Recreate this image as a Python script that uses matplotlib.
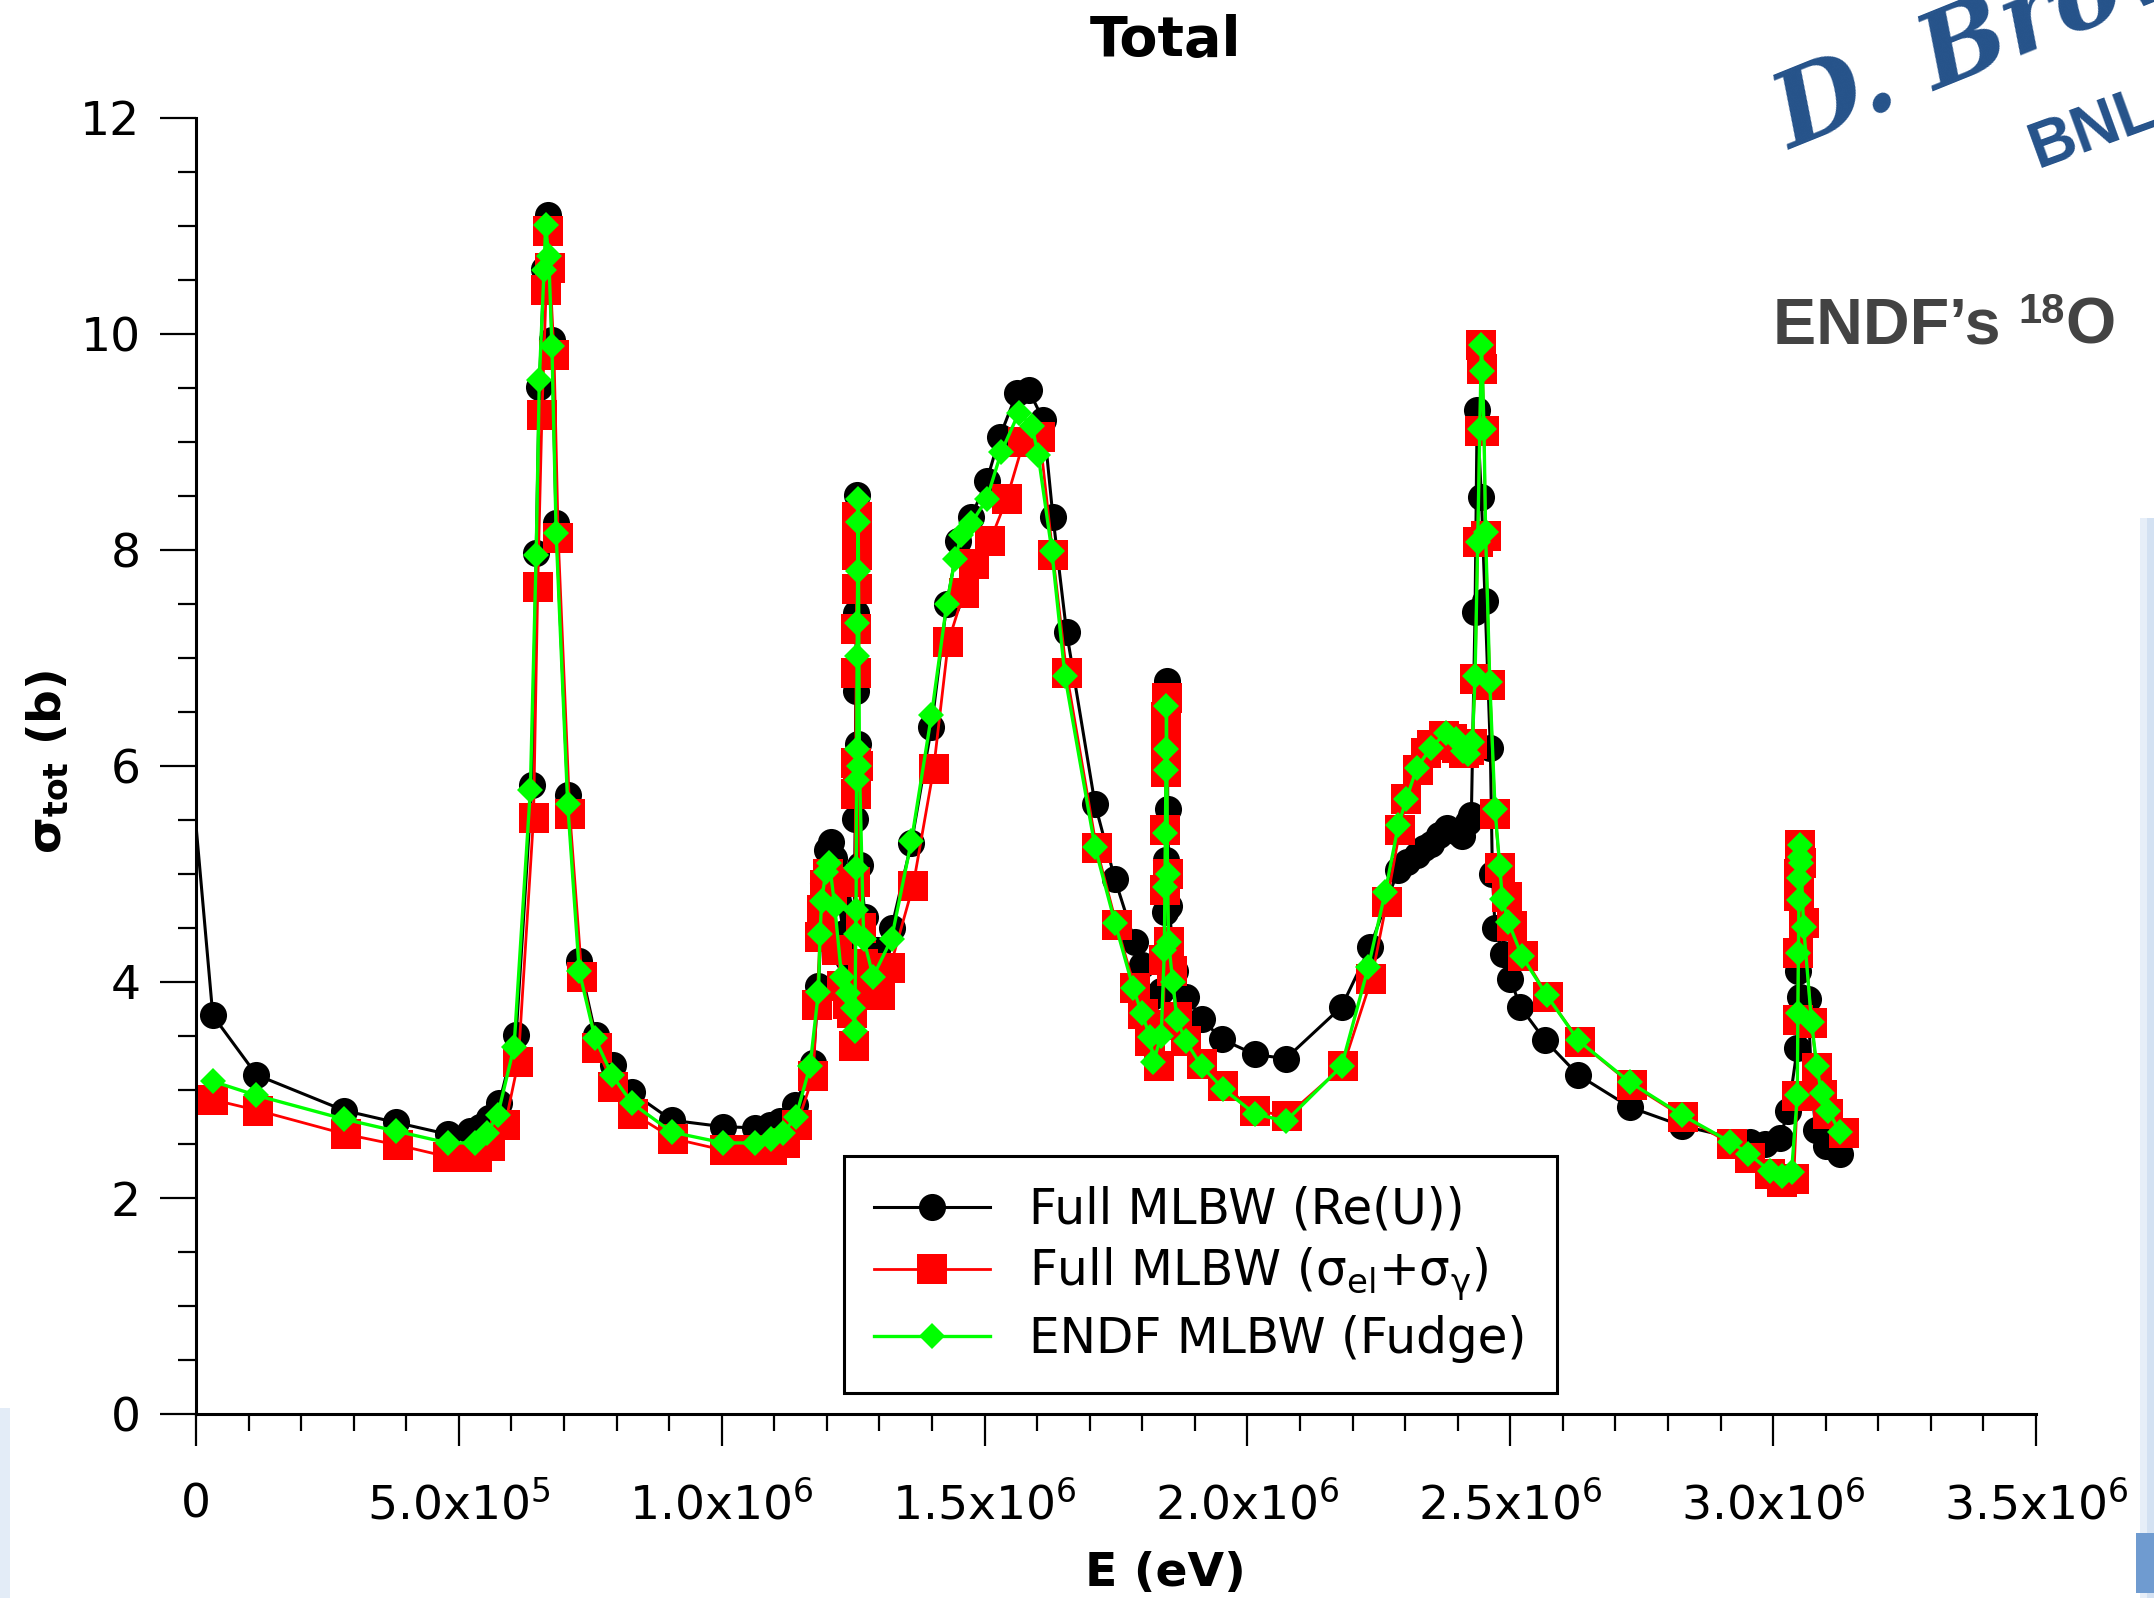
import matplotlib
matplotlib.use("Agg")
import matplotlib.pyplot as plt
from matplotlib.ticker import MultipleLocator, FixedLocator
from matplotlib.transforms import IdentityTransform
from matplotlib.patches import Rectangle

# ---------------- data (E in keV, sigma in barns) ----------------
E_reu = [0, 32, 115, 282, 380, 479, 522, 540, 558, 577, 609, 639, 647, 653, 662, 670, 677, 685, 707, 729,
         760, 793, 829, 905, 1003, 1063, 1091, 1111, 1139, 1174, 1184, 1193, 1201, 1207, 1213, 1222, 1232,
         1241, 1248, 1252, 1254, 1255, 1256, 1257, 1259, 1263, 1273, 1295, 1323, 1361, 1399, 1428, 1450,
         1475, 1504, 1529, 1561, 1584, 1612, 1630, 1656, 1710, 1748, 1786, 1799, 1818, 1836, 1843, 1844.5,
         1846, 1847, 1848.5, 1851, 1862, 1884, 1913, 1951, 2014, 2073, 2179, 2233, 2287, 2303, 2322, 2336,
         2350, 2365, 2379, 2394, 2408, 2420, 2426, 2433, 2437, 2445, 2452, 2462, 2466, 2471, 2487, 2500,
         2519, 2566, 2629, 2728, 2826, 2956, 2985, 3013, 3029, 3046, 3048, 3052, 3066, 3074, 3081, 3100, 3127]
S_reu = [5.45, 3.69, 3.14, 2.81, 2.70, 2.59, 2.62, 2.66, 2.74, 2.88, 3.51, 5.82, 7.97, 9.51, 10.6, 11.10, 9.94,
         8.25, 5.73, 4.19, 3.51, 3.23, 2.98, 2.72, 2.66, 2.65, 2.68, 2.71, 2.86, 3.25, 3.96, 4.92, 5.22, 5.30,
         5.15, 4.75, 4.45, 4.21, 4.05, 4.60, 5.51, 6.69, 7.42, 8.51, 6.20, 5.08, 4.60, 4.30, 4.50, 5.29, 6.36,
         7.50, 8.08, 8.31, 8.64, 9.05, 9.45, 9.48, 9.20, 8.31, 7.24, 5.65, 4.95, 4.37, 4.16, 3.86, 3.92, 4.65,
         5.13, 6.60, 6.79, 5.60, 4.70, 4.10, 3.86, 3.66, 3.47, 3.33, 3.29, 3.77, 4.32, 5.04, 5.11, 5.18, 5.24,
         5.28, 5.36, 5.43, 5.40, 5.35, 5.48, 5.55, 7.43, 9.30, 8.49, 7.53, 6.17, 5.00, 4.50, 4.26, 4.03, 3.77,
         3.46, 3.14, 2.84, 2.67, 2.52, 2.50, 2.56, 2.81, 3.39, 4.10, 3.86, 3.84, 3.00, 2.63, 2.48, 2.41]

E_sum = [32, 118, 285, 384, 480, 510, 534, 559, 588, 613, 642, 650, 658, 666, 670, 673, 681, 689, 711, 734,
         763, 794, 832, 908, 1006, 1060, 1095, 1120, 1143, 1174, 1181, 1187, 1190, 1196, 1203, 1210, 1220,
         1228, 1240, 1247, 1252, 1253.5, 1254.5, 1255, 1255.5, 1256, 1256.5, 1257, 1257.5, 1258, 1260, 1264,
         1269, 1285, 1301, 1320, 1364, 1403, 1431, 1460, 1479, 1510, 1542, 1574, 1605, 1630, 1656, 1713,
         1751, 1786, 1802, 1815, 1831, 1840, 1842, 1843, 1844, 1845, 1845.5, 1846, 1846.5, 1848, 1850, 1856,
         1866, 1884, 1913, 1954, 2014, 2075, 2182, 2236, 2265, 2290, 2302, 2325, 2340, 2351, 2373, 2390,
         2398, 2412, 2422, 2428, 2433, 2438, 2442, 2445, 2447, 2450, 2453, 2461, 2471, 2480, 2493, 2503,
         2525, 2572, 2633, 2731, 2829, 2921, 2956, 2994, 3016, 3039, 3046, 3047, 3048, 3049, 3050, 3050.5,
         3051, 3053, 3058, 3073, 3083, 3092, 3105, 3134]
S_sum = [2.91, 2.81, 2.59, 2.49, 2.38, 2.38, 2.38, 2.48, 2.68, 3.26, 5.52, 7.66, 9.25, 10.41, 10.95, 10.61,
         9.81, 8.11, 5.56, 4.05, 3.39, 3.03, 2.78, 2.55, 2.44, 2.44, 2.44, 2.51, 2.68, 3.13, 3.79, 4.42, 4.67,
         4.90, 5.00, 4.80, 4.30, 3.96, 3.80, 3.71, 3.41, 4.93, 5.74, 6.03, 6.86, 7.27, 7.64, 7.95, 8.12, 8.31,
         6.00, 4.50, 4.17, 3.93, 3.88, 4.13, 4.89, 5.97, 7.15, 7.60, 7.87, 8.08, 8.47, 9.00, 9.05, 7.95, 6.86,
         5.24, 4.53, 3.94, 3.70, 3.45, 3.22, 3.60, 4.20, 4.85, 5.41, 5.94, 6.21, 6.45, 6.63, 5.00, 4.37, 4.10,
         3.68, 3.45, 3.24, 3.04, 2.81, 2.76, 3.22, 4.03, 4.74, 5.41, 5.69, 5.96, 6.12, 6.19, 6.28, 6.25, 6.17,
         6.12, 6.15, 6.20, 6.81, 8.07, 9.10, 9.90, 9.68, 9.10, 8.13, 6.75, 5.56, 5.06, 4.79, 4.52, 4.24, 3.86,
         3.44, 3.05, 2.75, 2.50, 2.37, 2.22, 2.15, 2.18, 2.94, 3.65, 4.27, 4.80, 5.00, 5.20, 5.27, 5.10, 4.55,
         3.62, 3.20, 2.95, 2.78, 2.60]

E_fudge = [32, 115, 282, 380, 479, 531, 553, 574, 605, 636, 647, 653, 662, 665, 671, 677, 685, 707, 729, 759,
           791, 829, 905, 1003, 1063, 1094, 1116, 1141, 1168, 1184, 1187, 1190, 1198, 1205, 1215, 1228, 1240,
           1250, 1253, 1255, 1255.5, 1256, 1256.5, 1257, 1257.5, 1258, 1258.5, 1259, 1259.5, 1262, 1270, 1288,
           1323, 1361, 1399, 1428, 1444, 1456, 1475, 1504, 1532, 1565, 1590, 1602, 1628, 1653, 1710, 1748,
           1783, 1799, 1815, 1821, 1836, 1842, 1843, 1844, 1845, 1845.5, 1846, 1848, 1850, 1858, 1866, 1883,
           1913, 1954, 2014, 2073, 2179, 2230, 2262, 2287, 2302, 2322, 2349, 2378, 2397, 2410, 2420, 2428,
           2433, 2438, 2442, 2445, 2447, 2450, 2453, 2461, 2471, 2480, 2485, 2496, 2522, 2569, 2629, 2728,
           2826, 2918, 2953, 2994, 3016, 3035, 3046, 3047, 3048, 3049, 3050, 3050.5, 3051, 3053, 3058, 3073,
           3083, 3092, 3105, 3127]
S_fudge = [3.08, 2.95, 2.73, 2.62, 2.51, 2.51, 2.60, 2.77, 3.40, 5.78, 7.95, 9.57, 10.59, 11.01, 10.72, 9.89,
           8.16, 5.65, 4.10, 3.48, 3.14, 2.88, 2.61, 2.51, 2.51, 2.55, 2.60, 2.75, 3.22, 3.91, 4.44, 4.75, 5.02,
           5.10, 4.70, 4.05, 3.90, 3.76, 3.55, 4.44, 4.67, 5.06, 5.87, 6.16, 7.02, 7.32, 7.81, 8.26, 8.47, 6.00,
           4.40, 4.05, 4.40, 5.31, 6.47, 7.50, 7.92, 8.14, 8.25, 8.47, 8.91, 9.27, 9.15, 8.88, 7.99, 6.83, 5.25,
           4.55, 3.94, 3.71, 3.49, 3.26, 3.50, 4.30, 4.88, 5.38, 5.96, 6.16, 6.56, 5.00, 4.37, 4.00, 3.65, 3.45,
           3.22, 3.01, 2.78, 2.71, 3.22, 4.14, 4.83, 5.45, 5.69, 5.98, 6.17, 6.31, 6.25, 6.14, 6.11, 6.22, 6.83,
           8.07, 9.12, 9.90, 9.66, 9.12, 8.17, 6.78, 5.60, 5.07, 4.77, 4.56, 4.24, 3.88, 3.46, 3.07, 2.77, 2.52,
           2.41, 2.25, 2.20, 2.24, 2.95, 3.71, 4.27, 4.76, 4.96, 5.16, 5.27, 5.10, 4.51, 3.63, 3.22, 2.97, 2.81,
           2.61]

series_labels = ["Full MLBW (Re(U))",
                 "Full MLBW (σ$_{\\mathregular{el}}$+σ$_{\\mathregular{γ}}$)",
                 "ENDF MLBW (Fudge)"]
x_ticks = [0, 5.0e5, 1.0e6, 1.5e6, 2.0e6, 2.5e6, 3.0e6, 3.5e6]
x_ticklabels = ["0", "5.0x10$^{5}$", "1.0x10$^{6}$", "1.5x10$^{6}$", "2.0x10$^{6}$",
                "2.5x10$^{6}$", "3.0x10$^{6}$", "3.5x10$^{6}$"]
y_ticks = [0, 2, 4, 6, 8, 10, 12]

# ---------------- figure ----------------
W, H = 2154, 1598
fig = plt.figure(figsize=(W / 100, H / 100), dpi=100)
fig.patch.set_facecolor("white")

# faint slide-background fringes at the edges
fig.patches.append(Rectangle((W - 14, 0), 14, 1080, transform=IdentityTransform(),
                             facecolor="#e6eef8", edgecolor="none", zorder=0))
fig.patches.append(Rectangle((W - 7, 0), 7, 1080, transform=IdentityTransform(),
                             facecolor="#d3e1f2", edgecolor="none", zorder=0))
fig.patches.append(Rectangle((0, 0), 10, 190, transform=IdentityTransform(),
                             facecolor="#e3ecf7", edgecolor="none", zorder=0))
fig.patches.append(Rectangle((W - 18, 5), 18, 60, transform=IdentityTransform(),
                             facecolor="#6f9bd0", edgecolor="none", zorder=0))

ax = fig.add_axes([196 / W, 1 - 1414 / H, 1840 / W, 1296 / H])
ax.patch.set_alpha(0)

kev = 1e3
lb, = ax.plot([e * kev for e in E_reu], S_reu, color="black", lw=2.2, marker="o", ms=19.5,
              mec="black", mfc="black", mew=0, markevery=list(range(1, len(E_reu))), zorder=2)
lr, = ax.plot([e * kev for e in E_sum], S_sum, color="#ff0000", lw=2.0, marker="s", ms=21,
              mec="#ff0000", mfc="#ff0000", mew=0, zorder=3)
lg, = ax.plot([e * kev for e in E_fudge], S_fudge, color="#00ff00", lw=2.4, marker="D", ms=13.5,
              mec="#00ff00", mfc="#00ff00", mew=0, zorder=4)

ax.set_xlim(0, 3.5e6)
ax.set_ylim(0, 12)
ax.xaxis.set_major_locator(FixedLocator(x_ticks))
ax.set_xticklabels(x_ticklabels)
ax.xaxis.set_minor_locator(MultipleLocator(1e5))
ax.yaxis.set_major_locator(FixedLocator(y_ticks))
ax.yaxis.set_minor_locator(MultipleLocator(0.5))

for s in ["top", "right"]:
    ax.spines[s].set_visible(False)
for s in ["left", "bottom"]:
    ax.spines[s].set_linewidth(2.2)

ax.tick_params(axis="x", which="major", direction="out", length=23, width=1.6, labelsize=34, pad=26)
ax.tick_params(axis="x", which="minor", direction="out", length=12, width=1.6)
ax.tick_params(axis="y", which="major", direction="out", length=26, width=1.6, labelsize=34, pad=14)
ax.tick_params(axis="y", which="minor", direction="out", length=13, width=1.6)

leg = ax.legend(handles=[lb, lr, lg], labels=series_labels, loc="lower left",
                bbox_to_anchor=(0.352, 0.016), borderaxespad=0, fontsize=35, frameon=True,
                fancybox=False, edgecolor="black", framealpha=1, borderpad=0.62,
                labelspacing=0.25, handlelength=2.4, handletextpad=0.8)
leg.get_frame().set_linewidth(2.2)

# titles / labels
fig.text(1165 / W, 1 - 41 / H, "Total", fontsize=40, weight="bold", ha="center", va="center")
fig.text(1165 / W, 1 - 1573 / H, "E (eV)", fontsize=34, weight="bold", ha="center", va="center")
fig.text(48 / W, 1 - 762 / H, "σ$_{\\mathbf{tot}}$ (b)", fontsize=34, weight="bold",
         rotation=90, ha="center", va="center")

# ENDF's 18O annotation
renderer = fig.canvas.get_renderer()
gray = "#434343"
t1 = fig.text(1773, H - 343, "ENDF’s ", transform=IdentityTransform(), fontsize=46.5,
              family="Liberation Sans", weight="bold", color=gray, ha="left", va="baseline")
bb1 = t1.get_window_extent(renderer)
t2 = fig.text(bb1.x1, H - 323, "18", transform=IdentityTransform(), fontsize=30,
              family="Liberation Sans", weight="bold", color=gray, ha="left", va="baseline")
bb2 = t2.get_window_extent(renderer)
fig.text(bb2.x1 + 1, H - 343, "O", transform=IdentityTransform(), fontsize=46.5,
         family="Liberation Sans", weight="bold", color=gray, ha="left", va="baseline")

# signature (runs off the top-right corner, as in the original slide)
blue = "#25528a"
fig.text(1790, H - 150, "D. Brown", transform=IdentityTransform(), fontsize=74,
         family="DejaVu Serif", style="italic", weight="bold", color=blue,
         rotation=22, rotation_mode="anchor", ha="left", va="baseline")
fig.text(2038, H - 168, "BNL", transform=IdentityTransform(), fontsize=46,
         family="Liberation Sans", weight="bold", color=blue,
         rotation=20, rotation_mode="anchor", ha="left", va="baseline")

fig.savefig("out.png", dpi=100, facecolor="white")
